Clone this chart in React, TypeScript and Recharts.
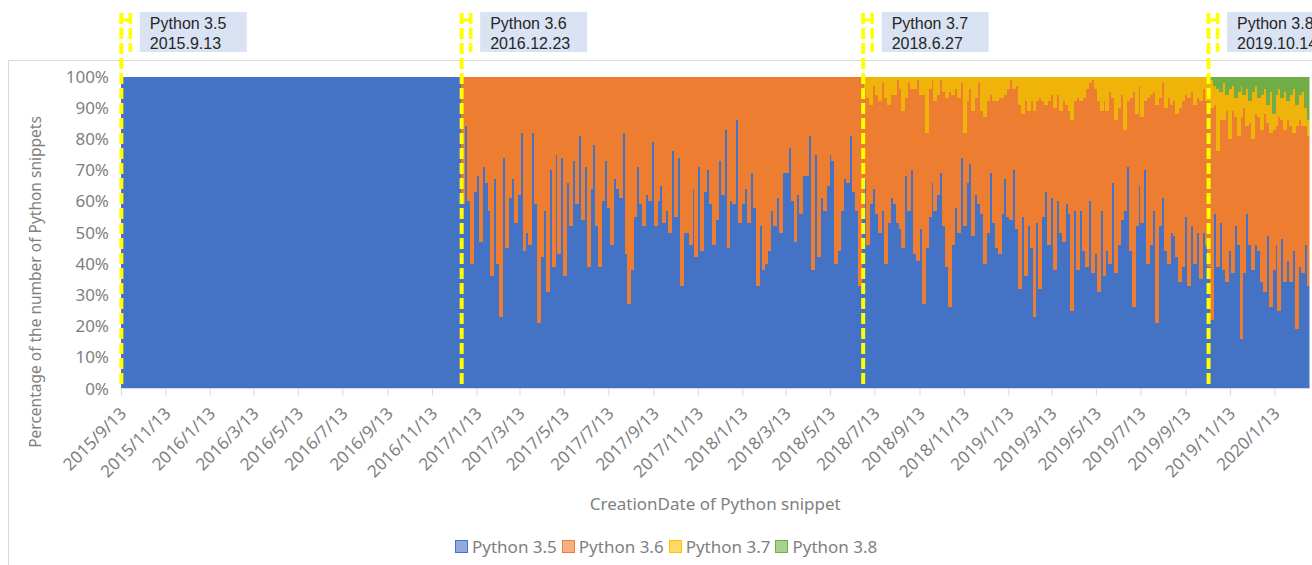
import { Bar, BarChart, Label, ReferenceLine, XAxis, YAxis } from "recharts";

// ---- data (shares in %, one value per 4-day bin) ----
const axisStart = "2015/9/13";
const py36From = "2016/12/23";
const py37From = "2018/6/28";
const py38From = "2019/10/13";
const binDays = 4;

const tickLabels = [
  "2015/9/13", "2015/11/13", "2016/1/13", "2016/3/13", "2016/5/13", "2016/7/13", "2016/9/13",
  "2016/11/13", "2017/1/13", "2017/3/13", "2017/5/13", "2017/7/13", "2017/9/13", "2017/11/13",
  "2018/1/13", "2018/3/13", "2018/5/13", "2018/7/13", "2018/9/13", "2018/11/13", "2019/1/13",
  "2019/3/13", "2019/5/13", "2019/7/13", "2019/9/13", "2019/11/13", "2020/1/13",
];

const releases = [
  { name: "Python 3.5", date: "2015.9.13" },
  { name: "Python 3.6", date: "2016.12.23" },
  { name: "Python 3.7", date: "2018.6.27" },
  { name: "Python 3.8", date: "2019.10.14" },
];

// from 2016/12/23 on
const py35Share = [
  59, 84, 60, 40, 63, 68, 47, 71, 66, 57, 36, 67, 40, 23, 74, 45, 61, 67, 53, 62, 82, 44, 50, 46, 82, 59, 21, 42, 57, 31,
  70, 39, 75, 43, 74, 36, 66, 52, 73, 59, 81, 54, 71, 39, 64, 78, 52, 39, 60, 73, 58, 46, 67, 64, 61, 82, 43, 27, 38, 55,
  71, 59, 52, 62, 60, 79, 52, 60, 65, 53, 57, 50, 76,
  55, 74, 33, 50, 50, 46, 64, 42, 71, 44, 63, 70, 59, 46, 54, 73, 62, 83, 45, 60, 59, 86, 53, 59, 64, 53, 69, 58, 33, 52,
  38, 40, 44, 57, 52, 61, 50, 69, 69, 77, 60, 47, 62, 56, 68, 68, 81, 38, 75, 42, 61, 57, 65, 75, 73, 40, 44, 57, 67, 66,
  81, 63, 57, 33, 58, 67, 46, 59, 64, 56, 50, 57, 40, 53,
  61, 59, 53, 51, 45, 68, 57, 70, 43, 41, 51, 27, 45, 55, 66, 57, 62, 69, 52, 39, 26, 46, 58, 50, 74, 52, 66, 72, 49, 62,
  59, 56, 40, 50, 69, 53, 45, 43, 56, 67, 55, 54, 70, 51, 32, 55, 36, 52, 45, 23, 53, 32, 55, 63, 46, 61, 38, 60, 50, 47,
  59, 56, 25, 57, 38, 57, 44, 39, 60, 37, 43, 31, 57, 36,
  44, 40, 66, 37, 46, 54, 57, 71, 44, 26, 52, 65, 53, 70, 40, 46, 57, 21, 52, 61, 44, 40, 50, 49, 42, 34, 39, 55, 33, 52,
  40, 50, 35, 50, 46, 39, 22, 56, 39, 53, 38, 34, 44, 37, 52, 46, 16, 37, 56, 46, 38, 46, 44, 34, 31, 49, 26, 38, 46, 25,
  48, 34, 41, 34, 44, 19, 39, 37, 46, 33,
];

const py36Share = [
  41, 16, 40, 60, 37, 32, 53, 29, 34, 43, 64, 33, 60, 77, 26, 55, 39, 33, 47, 38, 18, 56, 50, 54, 18, 41, 79, 58, 43, 69,
  30, 61, 25, 57, 26, 64, 34, 48, 27, 41, 19, 46, 29, 61, 36, 22, 48, 61, 40, 27, 42, 54, 33, 36, 39, 18, 57, 73, 62, 45,
  29, 41, 48, 38, 40, 21, 48, 40, 35, 47, 43, 50, 24,
  45, 26, 67, 50, 50, 54, 36, 58, 29, 56, 37, 30, 41, 54, 46, 27, 38, 17, 55, 40, 41, 14, 47, 41, 36, 47, 31, 42, 67, 48,
  62, 60, 56, 43, 48, 39, 50, 31, 31, 23, 40, 53, 38, 44, 32, 32, 19, 62, 25, 58, 39, 43, 35, 25, 27, 60, 56, 43, 33, 34,
  19, 37, 43, 67, 42, 29, 47, 32, 33, 38, 42, 41, 53, 38,
  33, 35, 46, 45, 44, 25, 41, 26, 53, 58, 43, 67, 37, 41, 33, 35, 32, 30, 43, 54, 69, 48, 38, 43, 24, 30, 26, 24, 40, 31,
  39, 33, 47, 42, 25, 39, 47, 50, 37, 27, 41, 45, 26, 46, 59, 33, 56, 37, 47, 66, 39, 61, 37, 28, 46, 33, 52, 34, 39, 45,
  32, 33, 61, 35, 55, 35, 49, 57, 38, 62, 53, 61, 32, 56,
  45, 55, 27, 49, 44, 40, 26, 21, 49, 69, 36, 32, 34, 22, 53, 48, 38, 70, 41, 37, 46, 53, 41, 43, 46, 56, 53, 39, 60, 43,
  51, 43, 57, 46, 46, 53, 68, 35, 37, 33, 48, 55, 36, 52, 35, 35, 71, 53, 28, 39, 42, 42, 43, 49, 57, 36, 56, 45, 38, 62,
  38, 49, 45, 50, 38, 65, 47, 47, 38, 48,
];

// from 2018/6/28 on
const py37Share = [
  4, 7, 9, 3, 6, 8, 2, 7, 9,
  6, 6, 1, 4, 11, 7, 2, 4, 4, 1, 6, 6, 18, 4, 1, 8, 6, 1, 5, 7, 5, 6, 4, 7, 2, 18, 8, 4, 11, 7,
  2, 11, 13, 8, 6, 8, 8, 7, 7, 6, 4, 1, 4, 3, 9, 12, 8, 11, 8, 11, 8, 7, 8, 9, 8, 6, 10, 6, 11, 8,
  9, 11, 14, 8, 7, 8, 7, 4, 2, 1, 4, 8, 11, 8,
  11, 5, 7, 14, 10, 6, 17, 8, 7, 5, 12, 3, 13, 8, 7, 6, 5, 9, 7, 2, 10, 7, 9, 8, 12, 10, 8, 6, 7, 5,
  9, 7, 8, 4, 8,
  8, 9, 6, 20, 9, 12, 5, 16, 8, 6, 14, 10, 4, 12, 7, 15, 9, 6, 11, 8, 6, 13, 5, 10, 9, 7, 12, 6, 10, 14,
  7, 8, 11, 6, 5,
];

// from 2019/10/13 on
const py38Share = [
  0, 1, 3, 4, 5, 2, 6, 4, 3, 7, 5, 3, 6, 4, 8, 5, 3, 7, 6, 4, 9, 5, 12, 6, 4, 7, 5, 8, 6, 4,
  9, 6, 5, 10, 14,
];

// ---- helpers ----
const msPerDay = 86400000;
function toUtc(label: string) {
  const [y, m, d] = label.split(/[/.]/).map(Number);
  return Date.UTC(y, m - 1, d);
}
const dayOf = (label: string) => Math.round((toUtc(label) - toUtc(axisStart)) / msPerDay);

type Row = { day: number; py35: number; py36: number; py37: number; py38: number };

const firstShared = dayOf(py36From);
const off37 = (dayOf(py37From) - firstShared) / binDays;
const off38 = (dayOf(py38From) - firstShared) / binDays;
const half = (binDays - 1) / 2;

const rows: Row[] = [];
// before 3.6 was out the picture is a flat 100% of 3.5
for (let s = firstShared - binDays; s > -binDays; s -= binDays) {
  rows.unshift({ day: s + half, py35: 100, py36: 0, py37: 0, py38: 0 });
}
py35Share.forEach((v, i) => {
  rows.push({
    day: firstShared + i * binDays + half,
    py35: v,
    py36: py36Share[i],
    py37: py37Share[i - off37] ?? 0,
    py38: py38Share[i - off38] ?? 0,
  });
});

const domainStart = -0.5;
const domainEnd = rows[rows.length - 1].day + binDays / 2;
const tickDays = tickLabels.map(dayOf);
const tickText = new Map(tickLabels.map((l) => [dayOf(l), l]));
const percentTicks = [0, 10, 20, 30, 40, 50, 60, 70, 80, 90, 100];

// ---- layout / styles ----
const W = 1312;
const H = 565;
const margin = { top: 76.5, right: 2.5, bottom: 46.5, left: 0 };
const yAxisWidth = 121;
const xAxisHeight = 130;
const plotWidth = W - margin.left - margin.right - yAxisWidth;
const barSize = (plotWidth * binDays) / (domainEnd - domainStart) - 0.02;

const gray = "#7f7f7f";
const axisFont = "'Noto Sans', 'DejaVu Sans', sans-serif";
const noteFont = "'Liberation Sans', Arial, sans-serif";
const lineColor = "#d9d9d9";
const markerYellow = "#FFFF00";

const colors = {
  py35: "#4472C4",
  py36: "#ED7D31",
  py37: "#F0B30A",
  py38: "#70AD47",
};
const legendItems = [
  { key: "py35", name: "Python 3.5", fill: "#8FAADC", border: "#4472C4" },
  { key: "py36", name: "Python 3.6", fill: "#F4B183", border: "#ED7D31" },
  { key: "py37", name: "Python 3.7", fill: "#FFD966", border: "#FFC000" },
  { key: "py38", name: "Python 3.8", fill: "#A9D18E", border: "#70AD47" },
];

// bins sit edge to edge; widen each by a pixel so no hairline seams show
function BinRect(props: any) {
  const { x, y, width, height, fill } = props;
  if (!height || height <= 0) return null;
  return <rect x={x} y={y} width={width + 1} height={height} fill={fill} shapeRendering="crispEdges" />;
}

function DateTick(props: any) {
  const { x, y, payload } = props;
  const ax = x + 6;
  const ay = y + 17;
  return (
    <text x={ax} y={ay} transform={`rotate(-45 ${ax} ${ay})`} textAnchor="end" fill={gray} fontSize={17} fontFamily={axisFont}>
      {tickText.get(payload.value)}
    </text>
  );
}

function ReleaseMarker(props: any) {
  const { x1, y1, y2, release } = props;
  const bottom = Math.max(y1, y2);
  const top = Math.min(y1, y2) - 63.5;
  return (
    <g>
      <line x1={x1} y1={top} x2={x1} y2={bottom} stroke={markerYellow} strokeWidth={4} strokeDasharray="11 4" />
      <line x1={x1 + 9} y1={top} x2={x1 + 9} y2={top + 39} stroke={markerYellow} strokeWidth={3.5} strokeDasharray="11 4" />
      <line x1={x1} y1={top + 7} x2={x1 + 9} y2={top + 7} stroke={markerYellow} strokeWidth={3} />
      <rect x={x1 + 18.5} y={top - 1} width={107} height={40} fill="#DAE3F3" />
      <text x={x1 + 28.5} y={top + 15.5} fill="#262626" fontSize={16} fontFamily={noteFont}>
        {release.name}
      </text>
      <text x={x1 + 28.5} y={top + 35.5} fill="#262626" fontSize={16} fontFamily={noteFont}>
        {release.date}
      </text>
    </g>
  );
}

export default function App() {
  return (
    <div style={{ position: "absolute", left: 0, top: 0, width: W, height: H, background: "#fff", overflow: "hidden" }}>
      <div
        style={{
          position: "absolute",
          left: 8,
          top: 60,
          width: W - 8,
          height: H - 60,
          borderTop: `1px solid ${lineColor}`,
          borderLeft: `1px solid ${lineColor}`,
        }}
      />
      <div style={{ position: "absolute", left: 0, top: 0 }}>
        <BarChart width={W} height={H} data={rows} margin={margin} stackOffset="expand" barGap={0} barCategoryGap={0}>
          <XAxis
            type="number"
            dataKey="day"
            domain={[domainStart, domainEnd]}
            allowDataOverflow
            ticks={tickDays}
            interval={0}
            height={xAxisHeight}
            tick={<DateTick />}
            tickSize={7}
            axisLine={{ stroke: lineColor }}
            tickLine={{ stroke: lineColor }}
          >
            <Label
              value="CreationDate of Python snippet"
              position="insideBottom"
              offset={9}
              fill={gray}
              fontSize={17}
              fontFamily={axisFont}
            />
          </XAxis>
          <YAxis
            type="number"
            domain={[0, 1]}
            ticks={percentTicks.map((p) => p / 100)}
            tickFormatter={(v: number) => `${Math.round(v * 100)}%`}
            width={yAxisWidth}
            axisLine={false}
            tickLine={false}
            tickSize={6}
            tickMargin={6}
            tick={{ fill: gray, fontSize: 17, fontFamily: axisFont }}
          >
            <Label
              content={() => (
                <text
                  x={35}
                  y={282}
                  transform="rotate(-90 35 282)"
                  textAnchor="middle"
                  dominantBaseline="central"
                  fill={gray}
                  fontSize={15.5}
                  fontFamily={axisFont}
                >
                  Percentage of the number of Python snippets
                </text>
              )}
            />
          </YAxis>
          <Bar dataKey="py35" name="Python 3.5" stackId="v" fill={colors.py35} barSize={barSize} shape={<BinRect />} isAnimationActive={false} />
          <Bar dataKey="py36" name="Python 3.6" stackId="v" fill={colors.py36} barSize={barSize} shape={<BinRect />} isAnimationActive={false} />
          <Bar dataKey="py37" name="Python 3.7" stackId="v" fill={colors.py37} barSize={barSize} shape={<BinRect />} isAnimationActive={false} />
          <Bar dataKey="py38" name="Python 3.8" stackId="v" fill={colors.py38} barSize={barSize} shape={<BinRect />} isAnimationActive={false} />
          {releases.map((r) => (
            <ReferenceLine
              key={r.name}
              x={dayOf(r.date)}
              ifOverflow="visible"
              shape={(p: any) => <ReleaseMarker {...p} release={r} />}
            />
          ))}
        </BarChart>
      </div>
      <div
        style={{
          position: "absolute",
          left: 455,
          top: 535,
          display: "flex",
          alignItems: "center",
          fontFamily: axisFont,
          fontSize: 17,
          color: gray,
          whiteSpace: "nowrap",
        }}
      >
        {legendItems.map((it) => (
          <div key={it.key} style={{ display: "flex", alignItems: "center", marginRight: 5 }}>
            <span
              style={{
                display: "inline-block",
                width: 11,
                height: 11,
                background: it.fill,
                border: `1px solid ${it.border}`,
                marginRight: 4,
              }}
            />
            <span>{it.name}</span>
          </div>
        ))}
      </div>
    </div>
  );
}
